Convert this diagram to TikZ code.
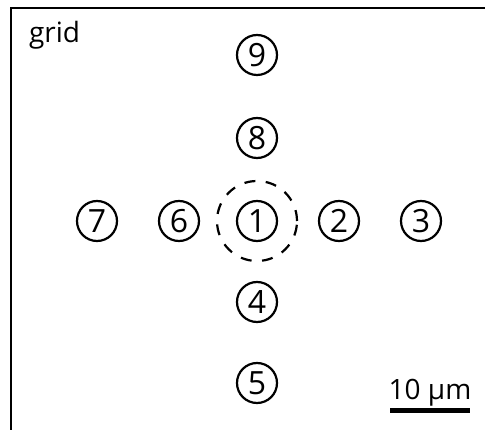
\documentclass[tikz,border=0pt]{standalone}
\usepackage{fontspec}
\setmainfont{Open Sans}

\begin{document}
\begin{tikzpicture}[x=1pt, y=-1pt, line width=2.2pt,
  spot/.style={draw, circle, minimum size=40pt, inner sep=0pt,
    font=\fontsize{32}{32}\selectfont},
  label/.style={font=\fontsize{28}{28}\selectfont, inner sep=0pt}]
  \useasboundingbox (0,0) rectangle (485,430);

  % frame
  \draw (11,431) -- (11,8) -- (486,8);
  \node[label, anchor=base west] (title) at (28,43) {grid};

  % spots
  \node[spot] (c1) at (257,221) {1};
  \node[spot] (c2) at (339,221) {2};
  \node[spot] (c3) at (421,221) {3};
  \node[spot] (c4) at (257,302) {4};
  \node[spot] (c5) at (257,383) {5};
  \node[spot] (c6) at (179,221) {6};
  \node[spot] (c7) at (97,221) {7};
  \node[spot] (c8) at (257,138) {8};
  \node[spot] (c9) at (257,55) {9};

  % dashed zone around spot 1
  \node[draw, circle, dash pattern=on 11pt off 10.5pt,
    minimum size=80pt, inner sep=0pt] (zone) at (c1) {};

  % scale bar
  \coordinate (barL) at (390,410.5);
  \coordinate (barR) at (470,410.5);
  \draw[line width=5pt] (barL) -- (barR);
  \node[label, anchor=base] (scale) at (430,400) {10 µm};
\end{tikzpicture}
\end{document}
